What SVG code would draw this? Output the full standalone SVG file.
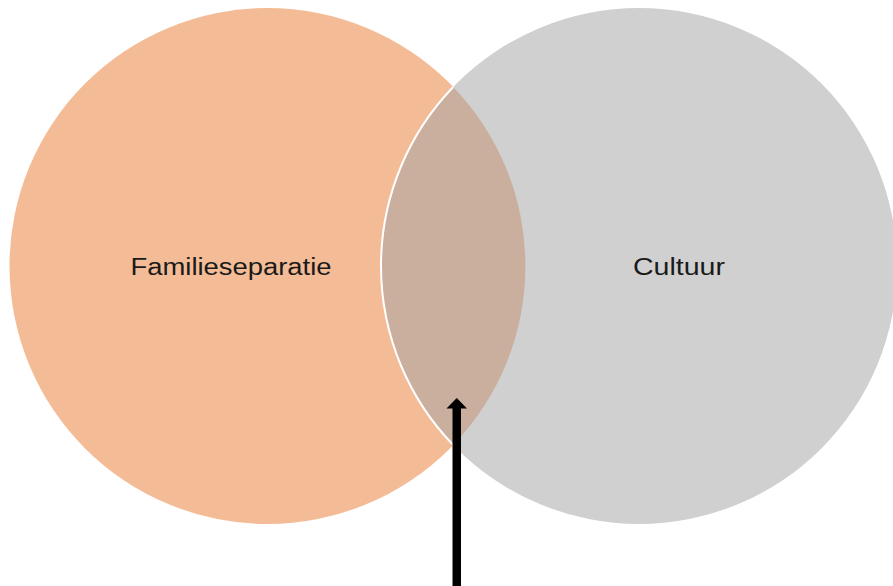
<svg xmlns="http://www.w3.org/2000/svg" width="893" height="586" viewBox="0 0 893 586">
<style>
.lbl{font-family:"Liberation Sans",Arial,sans-serif;font-size:23px;fill:#1a1a1a}
</style>
<rect width="893" height="586" fill="#ffffff"/>
<g id="familieseparatie">
<circle cx="267.5" cy="266" r="258" fill="#F4BC96"/>
</g>
<g id="cultuur">
<circle cx="639" cy="266" r="258" fill="#D0D0D0"/>
</g>
<g id="overlap">
<path d="M453.2,87 A258,258 0 0 1 453.2,445 A258,258 0 0 1 453.2,87 Z" fill="#CAAE9E"/>
<path d="M453.2,87 A258,258 0 0 0 453.2,445" fill="none" stroke="#ffffff" stroke-width="2"/>
</g>
<g id="labels">
<text class="lbl" x="130.5" y="275" textLength="201" lengthAdjust="spacingAndGlyphs">Familieseparatie</text>
<text class="lbl" x="633" y="275" textLength="92" lengthAdjust="spacingAndGlyphs">Cultuur</text>
</g>
<g id="connectors">
<rect x="452.5" y="407" width="8.5" height="179" fill="#000000"/>
<polygon points="446.5,408.5 456.75,398 467,408.5" fill="#000000"/>
</g>
</svg>
